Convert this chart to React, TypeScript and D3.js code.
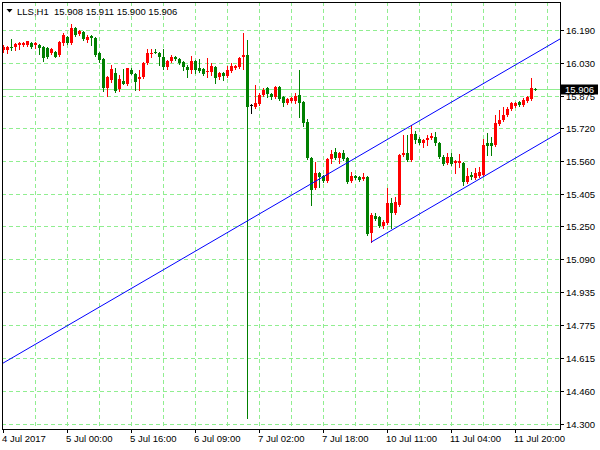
import React from 'react';
import * as d3 from 'd3';

const symbolTitle = 'LLS,H1';
const lastQuote = [15.908, 15.911, 15.9, 15.906];
const currentPrice = 15.906;

const opens = [
  16.094, 16.094, 16.108, 16.108, 16.118, 16.118, 16.118, 16.128, 16.118, 16.118,
  16.108, 16.104, 16.08, 16.084, 16.07, 16.128, 16.156, 16.128, 16.2, 16.171,
  16.18, 16.142, 16.161, 16.152, 16.08, 16.051, 15.912, 15.95, 15.984, 15.907,
  15.945, 15.931, 15.998, 15.979, 15.955, 15.964, 16.032, 16.075, 16.084, 16.08,
  16.06, 16.012, 16.041, 16.06, 16.051, 16.036, 16.012, 15.998, 16.041, 16.008,
  16.003, 15.988, 15.988, 16.012, 15.964, 15.984, 15.969, 15.993, 16.008, 16.012,
  16.06, 16.07, 15.83, 15.82, 15.835, 15.878, 15.912, 15.883, 15.868, 15.916,
  15.868, 15.84, 15.849, 15.849, 15.878, 15.844, 15.748, 15.576, 15.432, 15.504,
  15.489, 15.465, 15.571, 15.604, 15.576, 15.6, 15.576, 15.465, 15.489, 15.484,
  15.475, 15.484, 15.216, 15.297, 15.292, 15.249, 15.264, 15.36, 15.312, 15.35,
  15.59, 15.6, 15.566, 15.691, 15.667, 15.648, 15.662, 15.672, 15.676, 15.648,
  15.58, 15.552, 15.58, 15.552, 15.552, 15.552, 15.46, 15.494, 15.48, 15.489,
  15.494, 15.648, 15.648, 15.638, 15.739, 15.758, 15.782, 15.811, 15.825, 15.844,
  15.83, 15.849, 15.859, 15.908,
];
const highs = [
  16.118, 16.113, 16.147, 16.128, 16.132, 16.132, 16.137, 16.132, 16.132, 16.123,
  16.113, 16.108, 16.104, 16.089, 16.137, 16.176, 16.161, 16.219, 16.204, 16.19,
  16.185, 16.166, 16.166, 16.156, 16.084, 16.056, 15.969, 16.022, 16.008, 15.974,
  16.003, 16.008, 16.008, 15.984, 15.998, 16.036, 16.099, 16.099, 16.099, 16.084,
  16.099, 16.046, 16.07, 16.065, 16.056, 16.041, 16.022, 16.065, 16.046, 16.051,
  16.008, 16.056, 16.032, 16.017, 15.988, 15.988, 16.017, 16.032, 16.022, 16.06,
  16.176, 16.142, 15.835, 15.926, 15.888, 15.912, 15.916, 15.888, 15.921, 15.921,
  15.873, 15.864, 15.868, 15.888, 15.998, 15.849, 15.763, 15.58, 15.556, 15.508,
  15.494, 15.576, 15.614, 15.624, 15.604, 15.614, 15.58, 15.508, 15.494, 15.489,
  15.504, 15.489, 15.312, 15.312, 15.297, 15.278, 15.432, 15.384, 15.388, 15.595,
  15.686, 15.686, 15.734, 15.705, 15.676, 15.667, 15.686, 15.696, 15.7, 15.652,
  15.59, 15.6, 15.6, 15.566, 15.595, 15.556, 15.528, 15.508, 15.528, 15.532,
  15.667, 15.696, 15.676, 15.782, 15.806, 15.82, 15.82, 15.844, 15.844, 15.849,
  15.864, 15.873, 15.96, 15.911,
];
const lows = [
  16.084, 16.08, 16.094, 16.094, 16.099, 16.113, 16.113, 16.104, 16.104, 16.075,
  16.041, 16.056, 16.075, 16.06, 16.065, 16.118, 16.123, 16.123, 16.161, 16.166,
  16.142, 16.132, 16.118, 16.065, 16.036, 15.897, 15.873, 15.94, 15.892, 15.897,
  15.931, 15.926, 15.979, 15.902, 15.902, 15.96, 16.027, 16.06, 16.08, 16.022,
  16.003, 16.003, 16.036, 16.046, 16.027, 15.998, 15.964, 15.984, 15.984, 15.988,
  15.974, 15.964, 15.974, 15.936, 15.955, 15.95, 15.964, 15.988, 16.003, 16.008,
  16.003, 14.328, 15.792, 15.816, 15.83, 15.873, 15.868, 15.859, 15.864, 15.854,
  15.825, 15.835, 15.844, 15.84, 15.772, 15.729, 15.571, 15.35, 15.427, 15.436,
  15.46, 15.46, 15.552, 15.571, 15.552, 15.566, 15.456, 15.46, 15.475, 15.465,
  15.47, 15.206, 15.172, 15.278, 15.244, 15.24, 15.259, 15.24, 15.307, 15.345,
  15.585, 15.561, 15.561, 15.648, 15.643, 15.628, 15.638, 15.667, 15.638, 15.576,
  15.542, 15.547, 15.542, 15.504, 15.532, 15.446, 15.456, 15.475, 15.475, 15.484,
  15.489, 15.59, 15.59, 15.633, 15.734, 15.753, 15.777, 15.806, 15.82, 15.825,
  15.825, 15.844, 15.854, 15.9,
];
const closes = [
  16.108, 16.108, 16.104, 16.123, 16.128, 16.128, 16.137, 16.108, 16.128, 16.104,
  16.056, 16.06, 16.099, 16.06, 16.132, 16.166, 16.128, 16.2, 16.166, 16.185,
  16.147, 16.156, 16.152, 16.07, 16.046, 15.912, 15.964, 16.003, 15.897, 15.955,
  15.931, 16.008, 15.979, 15.94, 15.964, 16.032, 16.08, 16.08, 16.08, 16.06,
  16.012, 16.041, 16.06, 16.051, 16.032, 16.012, 15.998, 16.041, 15.998, 15.993,
  15.979, 15.993, 16.017, 15.96, 15.984, 15.969, 15.998, 16.017, 16.017, 16.056,
  16.07, 15.82, 15.83, 15.84, 15.878, 15.902, 15.883, 15.868, 15.916, 15.859,
  15.84, 15.859, 15.864, 15.873, 15.84, 15.744, 15.576, 15.422, 15.504, 15.484,
  15.465, 15.571, 15.595, 15.576, 15.6, 15.571, 15.46, 15.489, 15.48, 15.47,
  15.484, 15.211, 15.302, 15.283, 15.249, 15.268, 15.36, 15.312, 15.364, 15.59,
  15.6, 15.566, 15.691, 15.662, 15.648, 15.662, 15.672, 15.681, 15.648, 15.58,
  15.547, 15.58, 15.547, 15.561, 15.561, 15.46, 15.489, 15.484, 15.504, 15.508,
  15.638, 15.633, 15.633, 15.744, 15.758, 15.782, 15.811, 15.84, 15.84, 15.83,
  15.854, 15.868, 15.912, 15.906,
];

const timeLabels = ['4 Jul 2017', '5 Jul 00:00', '5 Jul 16:00', '6 Jul 09:00', '7 Jul 02:00', '7 Jul 18:00', '10 Jul 11:00', '11 Jul 04:00', '11 Jul 20:00'];
const timeLabelBars = [0, 16, 32, 48, 64, 80, 96, 112, 128];
const priceTicks = [16.19, 16.03, 15.875, 15.72, 15.56, 15.405, 15.25, 15.09, 14.935, 14.775, 14.615, 14.46, 14.3];

// channel trend lines: [bar index, price]
const upperChannel = [[0, 14.592], [102, 15.731]];
const lowerChannel = [[92, 15.172], [132, 15.619]];

const W = 600;
const H = 450;
const L = 2;
const R = 560;
const T = 2;
const B = 429;
const FONT = 'Liberation Sans, Arial, sans-serif';
const GRID = '#90ee90';
const BULL = '#ff0000';
const BEAR = '#008000';

export default function App() {
  const n = opens.length;
  const x = d3.scaleLinear().domain([0, n - 1]).range([3, 535]);
  const y = d3.scaleLinear().domain([14.3, 16.19]).range([424, 30]);

  const ray = (pts: number[][]) => {
    const [a, b] = pts;
    const x1 = x(a[0]);
    const y1 = y(a[1]);
    const x2 = x(b[0]);
    const y2 = y(b[1]);
    const slope = (y2 - y1) / (x2 - x1);
    const xe = R;
    const ye = y1 + slope * (xe - x1);
    return { x1, y1, x2: xe, y2: ye };
  };
  const up = ray(upperChannel);
  const lo = ray(lowerChannel);

  const vGrid: number[] = [];
  for (let b = 8; x(b) < R; b += 8) vGrid.push(Math.round(x(b)) + 0.5);

  const priceY = Math.round(y(currentPrice)) + 0.5;

  return (
    <svg width={W} height={H} style={{ position: 'fixed', left: 0, top: 0, background: '#fff' }}>
      <rect x={0} y={0} width={W} height={H} fill="#fff" />
      <defs>
        <clipPath id="plot">
          <rect x={L} y={T} width={R - L} height={B - T} />
        </clipPath>
      </defs>
      {/* grid */}
      <g stroke={GRID} strokeWidth={1} strokeDasharray="4,3" shapeRendering="crispEdges">
        {priceTicks.map((p, k) => (
          <line key={'h' + k} x1={L} x2={R} y1={Math.round(y(p)) + 0.5} y2={Math.round(y(p)) + 0.5} />
        ))}
        {vGrid.map((gx, k) => (
          <line key={'v' + k} x1={gx} x2={gx} y1={T} y2={B} />
        ))}
      </g>
      {/* current price line */}
      <line x1={L} x2={R} y1={priceY} y2={priceY} stroke={GRID} strokeWidth={1} shapeRendering="crispEdges" />
      {/* candles */}
      <g clipPath="url(#plot)" shapeRendering="crispEdges">
        {opens.map((o, i) => {
          const c = closes[i];
          const col = c > o ? BULL : c < o ? BEAR : '#000';
          const cx = Math.round(x(i));
          const yh = Math.round(y(highs[i]));
          const yl = Math.round(y(lows[i]));
          const yo = Math.round(y(o));
          const yc = Math.round(y(c));
          const top = Math.min(yo, yc);
          const bh = Math.max(1, Math.abs(yo - yc));
          return (
            <g key={i} fill={col}>
              <rect x={cx} y={yh} width={1} height={Math.max(1, yl - yh + 1)} />
              <rect x={cx - 1} y={top} width={3} height={bh} />
            </g>
          );
        })}
      </g>
      {/* channel lines */}
      <g clipPath="url(#plot)" stroke="#0000ff" strokeWidth={1} fill="none">
        <line x1={up.x1} y1={up.y1} x2={up.x2} y2={up.y2} />
        <line x1={lo.x1} y1={lo.y1} x2={lo.x2} y2={lo.y2} />
      </g>
      {/* frame */}
      <rect x={L + 0.5} y={T + 0.5} width={R - L} height={B - T} fill="none" stroke="#000" strokeWidth={1} shapeRendering="crispEdges" />
      {/* right axis */}
      <g fontFamily={FONT} fontSize={9.5} fill="#000">
        {priceTicks.map((p, k) => {
          const py = Math.round(y(p)) + 0.5;
          return (
            <g key={k}>
              <line x1={R} x2={R + 4} y1={py} y2={py} stroke="#000" shapeRendering="crispEdges" />
              <text x={566} y={py + 3.5}>{p.toFixed(3)}</text>
            </g>
          );
        })}
      </g>
      {/* price tag */}
      <rect x={561} y={priceY - 5} width={37} height={10} fill="#000" />
      <text x={565} y={priceY + 3.5} fontFamily={FONT} fontSize={9.5} fill="#fff">{currentPrice.toFixed(3)}</text>
      {/* bottom axis */}
      <g fontFamily={FONT} fontSize={9.5} fill="#000">
        {timeLabelBars.map((b, k) => {
          const tx = Math.round(x(b)) + 0.5;
          return (
            <g key={k}>
              <line x1={tx} x2={tx} y1={B} y2={B + 4} stroke="#000" shapeRendering="crispEdges" />
              <text x={tx - 1.5} y={442}>{timeLabels[k]}</text>
            </g>
          );
        })}
      </g>
      {/* title */}
      <path d="M6.5,9 L12.5,9 L9.5,12.5 Z" fill="#000" />
      <text x={17} y={15} fontFamily={FONT} fontSize={9.5} fill="#000" style={{ whiteSpace: 'pre' }}>
        {symbolTitle + '  ' + lastQuote.map((v) => v.toFixed(3)).join(' ')}
      </text>
    </svg>
  );
}
